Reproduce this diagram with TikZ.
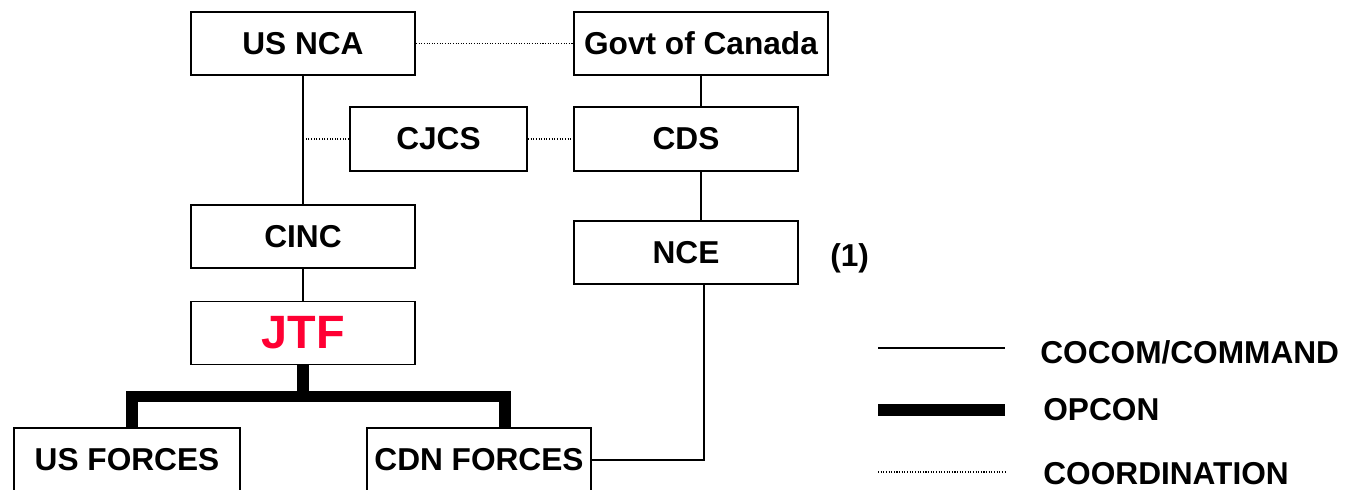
\documentclass[tikz,border=0pt]{standalone}
\usepackage{fontspec}
\setmainfont{Liberation Sans}
\usetikzlibrary{positioning,calc}
\definecolor{jtfred}{RGB}{255,0,51}

\begin{document}
\begin{tikzpicture}
[box/.style={draw,line width=1.1pt,rectangle,minimum width=4.48cm,minimum height=1.26cm,inner sep=0pt,font=\fontsize{18}{21}\selectfont\bfseries},
cmd/.style={black,line width=0.85pt},
opcon/.style={black,line width=6.8pt},
coord/.style={black,line width=0.6pt,dash pattern=on 0.6pt off 0.9pt},
txt/.style={anchor=west,inner sep=0pt,font=\fontsize{18}{21}\selectfont\bfseries}]
\useasboundingbox (0,0) rectangle (27.08,-9.78);
%% US side
\node[box] (usnca) at (6.06,-0.87) {US NCA};
\node[box] (cinc) at (6.06,-4.73) {CINC};
\node[box,font=\fontsize{26.6}{30}\selectfont\bfseries,text=jtfred] (jtf) at (6.06,-6.66) {JTF};
\node[box,minimum width=4.52cm] (usf) at (2.54,-9.19) {US FORCES};
%% Canadian side
\node[box,minimum width=5.08cm] (govt) at (14.02,-0.87) {Govt of Canada};
\node[box,minimum height=1.28cm] (cds) at (13.72,-2.78) {CDS};
\node[box] (nce) at (13.72,-5.05) {NCE};
\node[box] (cdnf) at (9.58,-9.19) {CDN FORCES};
\node[txt] (note) at (16.6,-5.16) {(1)};
% middle
\node[box,minimum width=3.54cm,minimum height=1.28cm] (cjcs) at (8.77,-2.78) {CJCS};
%% connectors
% command
\draw[cmd] (usnca) -- (cinc);
\draw[cmd] (cinc) -- (jtf);
\draw[cmd] (govt.south) -- (govt.south |- cds.north);
\draw[cmd] (nce.north -| govt.south) -- (cds.south -| govt.south);
\coordinate (ncedown) at ($(nce.south)+(0.36,-3.5)$);
\draw[cmd] ($(nce.south)+(0.36,0)$) -- (ncedown) -- (ncedown -| cdnf.east);
% coordination
\draw[coord] (usnca) -- (govt);
\draw[coord] (cjcs) -- (cds);
\draw[coord] (cjcs.west) -- (cjcs.west -| usnca.south);
% opcon
\coordinate (bar) at ($(jtf.south)+(0,-0.62)$);
\draw[opcon] (jtf.south) -- (bar);
\draw[opcon] ($(usf.north)+(0.1,0)$) |- (bar) -| ($(cdnf.north)+(0.52,0)$);
%% Legend
\coordinate (la1) at (17.56,-6.96);
\coordinate (lb1) at (20.1,-6.96);
\coordinate (la2) at (17.56,-8.2);
\coordinate (lb2) at (20.1,-8.2);
\coordinate (la3) at (17.56,-9.44);
\coordinate (lb3) at (20.1,-9.44);
\draw[cmd] (la1) -- (lb1);
\draw[line width=6.8pt] (la2) -- (lb2);
\draw[coord] (la3) -- (lb3);
\node[txt] (lcmd) at (20.8,-7.04) {COCOM/COMMAND};
\node[txt] (lopcon) at (20.86,-8.2) {OPCON};
\node[txt] (lcoord) at (20.86,-9.48) {COORDINATION};
\end{tikzpicture}
\end{document}
